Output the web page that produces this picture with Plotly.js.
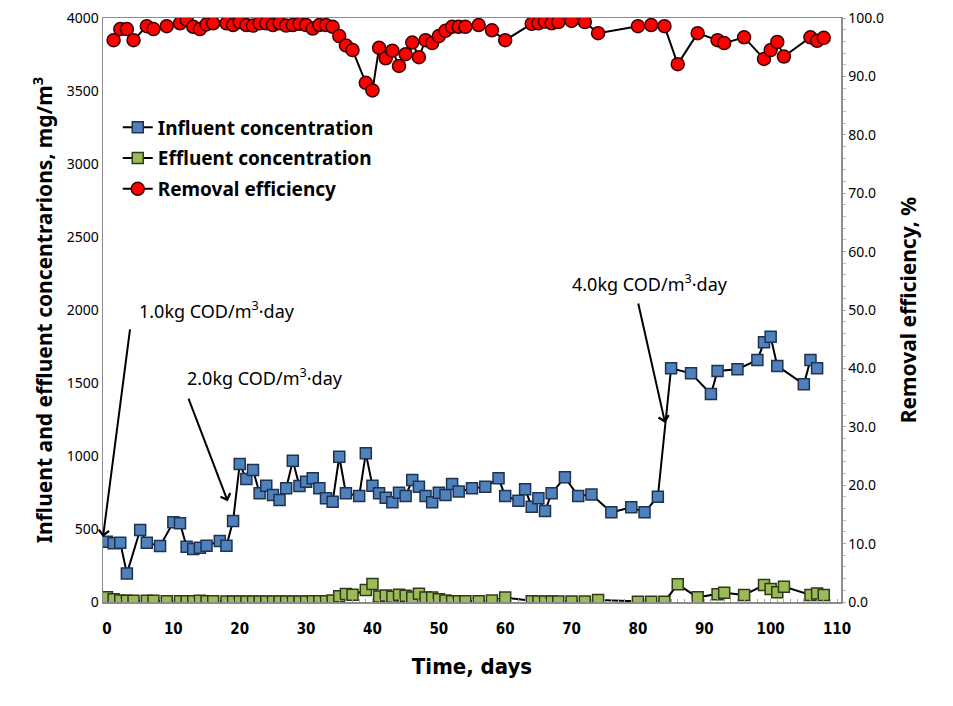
<!DOCTYPE html>
<html><head><meta charset="utf-8">
<script src="https://cdn.plot.ly/plotly-3.0.1.min.js"></script>
<style>body{margin:0;background:#fff}#chart{width:953px;height:706px}</style>
</head><body><div id="chart"></div>
<script>
// Influent concentration (mg/m3)
const influentDays = [0,1,2,3,5,6,8,10,11,12,13,14,15,17,18,19,20,21,22,23,24,25,26,27,28,29,30,31,32,33,34,35,36,38,39,40,41,42,43,44,45,46,47,48,49,50,51,52,53,55,57,59,60,62,63,64,65,66,67,69,71,73,76,79,81,83,85,88,91,92,95,98,99,100,101,105,106,107];
const influentValues = [413,402,406,196,493,406,384,546,539,379,363,372,386,418,386,555,945,842,904,745,797,733,699,779,968,795,824,847,779,710,687,995,745,726,1018,797,745,714,683,749,726,836,790,726,683,749,733,808,756,779,790,847,726,694,772,653,710,623,745,854,726,736,614,649,614,721,1601,1566,1425,1582,1594,1658,1779,1817,1617,1491,1658,1601];

// Effluent concentration (mg/m3)
const effluentDays = [0,1,2,3,4,6,7,9,11,12,13,14,15,16,18,19,20,21,22,23,24,25,26,27,28,29,30,31,32,33,34,35,36,37,39,40,41,42,43,44,45,46,47,48,49,50,51,52,53,54,56,58,60,64,65,66,67,68,70,72,74,80,82,84,86,89,92,93,96,99,100,101,102,106,107,108];
const effluentValues = [32,18,10,8,8,8,8,5,5,5,5,8,5,5,3,3,3,3,3,3,3,3,3,3,3,3,3,5,5,5,10,40,55,50,82,123,38,45,36,50,43,30,57,30,30,19,10,5,5,5,5,10,30,5,3,3,3,3,3,3,14,2,2,2,121,32,53,64,48,116,89,66,105,48,59,48];

// Removal efficiency (%)
const removalDays = [1,2,3,4,6,7,9,11,12,13,14,15,16,18,19,20,21,22,23,24,25,26,27,28,29,30,31,32,33,34,35,36,37,39,40,41,42,43,44,45,46,47,48,49,50,51,52,53,54,56,58,60,64,65,66,67,68,70,72,74,80,82,84,86,89,92,93,96,99,100,101,102,106,107,108];
const removalValues = [96.2,98.1,98.1,96.2,98.6,98.1,98.6,99.1,99.7,98.5,98.1,98.9,99.1,99.1,98.8,99.3,98.8,98.7,99.1,99.1,98.8,99.1,98.7,98.8,99.0,98.8,98.2,98.8,98.8,98.5,96.9,95.3,94.5,88.9,87.6,94.9,93.1,94.4,91.8,93.8,95.8,93.3,96.2,95.7,96.9,97.8,98.5,98.5,98.5,98.8,97.9,96.2,99.0,99.1,99.4,99.1,99.3,99.5,99.3,97.4,98.6,98.8,98.6,92.1,97.4,96.2,95.7,96.7,93.0,94.5,95.9,93.4,96.7,96.1,96.6];

const xTicks = [0,10,20,30,40,50,60,70,80,90,100,110];

const data = [
  {x: influentDays, y: influentValues, name: 'Influent concentration', mode: 'lines+markers', legendgroup:'a',
   line: {color: '#000', width: 2}, marker: {symbol: 'square', size: 11, color: '#4F81BD', line: {color: '#1F3350', width: 1.5}}},
  {x: effluentDays, y: effluentValues, name: 'Effluent concentration', mode: 'lines+markers', legendgroup:'b',
   line: {color: '#000', width: 2}, marker: {symbol: 'square', size: 11, color: '#9BBB59', line: {color: '#2E3A18', width: 1.5}}},
  {x: removalDays, y: removalValues, name: 'Removal efficiency', mode: 'lines+markers', yaxis: 'y2', legendgroup:'c',
   line: {color: '#000', width: 2}, marker: {symbol: 'circle', size: 13, color: '#FF0000', line: {color: '#3A0000', width: 1.5}}}
];

const arrowStyle = {showarrow: true, arrowhead: 4, arrowsize: 1, arrowwidth: 2, arrowcolor: '#000', text: '',
  xref: 'x', yref: 'y', axref: 'x', ayref: 'y'};
const labelFont = {family: 'Noto Sans', size: 18, color: '#000'};
const condensed = 'DejaVu Sans Condensed, DejaVu Sans, sans-serif';

const layout = {
  width: 953, height: 706,
  paper_bgcolor: '#fff', plot_bgcolor: '#fff',
  margin: {l: 103, r: 112, t: 18, b: 104},
  showlegend: true,
  legend: {x: 0.02, y: 0.845, xanchor: 'left', yanchor: 'top', bgcolor: 'rgba(0,0,0,0)',
    font: {family: 'Noto Sans', size: 19, color: '#000', weight: 'bold'}, itemwidth: 30, tracegroupgap: 3, traceorder: 'grouped'},
  xaxis: {range: [-0.6, 110.6], tickvals: xTicks, showgrid: false, zeroline: false,
    showline: true, linecolor: '#8c8c8c', linewidth: 1.5, mirror: true, ticks: '',
    ticklabelstandoff: 12,
    minor: {dtick: 1, ticks: 'inside', ticklen: 3, tickcolor: '#aaa'},
    tickfont: {family: condensed, size: 15, color: '#000', weight: 'bold'},
    title: {text: 'Time, days', standoff: 22, font: {family: condensed, size: 22, color: '#000', weight: 'bold'}}},
  yaxis: {range: [0, 4000], dtick: 500, showgrid: false, zeroline: false,
    showline: true, linecolor: '#8c8c8c', linewidth: 1.5, ticks: '',
    tickfont: {family: 'Noto Sans', size: 14, color: '#000'},
    title: {text: 'Influent and effluent concentrarions, mg/m<sup>3</sup>', standoff: 8,
      font: {family: 'Noto Sans', size: 21, color: '#000', weight: 'bold'}}},
  yaxis2: {range: [0, 100], dtick: 10, tickformat: '.1f', overlaying: 'y', side: 'right',
    showgrid: false, zeroline: false, showline: true, linecolor: '#8c8c8c', linewidth: 1.5,
    ticks: 'outside', ticklen: 3, tickcolor: '#aaa',
    minor: {dtick: 2, ticks: 'outside', ticklen: 3, tickcolor: '#bbb'},
    tickfont: {family: 'Noto Sans', size: 14, color: '#000'},
    title: {text: 'Removal efficiency, %', standoff: 18,
      font: {family: 'Noto Sans', size: 21, color: '#000', weight: 'bold'}}},
  annotations: [
    Object.assign({}, arrowStyle, {x: -0.6, y: 445, ax: 3.5, ay: 1877}),
    Object.assign({}, arrowStyle, {x: 18.2, y: 690, ax: 12.2, ay: 1404}),
    Object.assign({}, arrowStyle, {x: 84.1, y: 1226, ax: 80.0, ay: 2055}),
    {x: 16.6, y: 2000, xref: 'x', yref: 'y', showarrow: false, text: '1.0kg COD/m<sup>3</sup>·day', font: labelFont},
    {x: 23.8, y: 1541, xref: 'x', yref: 'y', showarrow: false, text: '2.0kg COD/m<sup>3</sup>·day', font: labelFont},
    {x: 81.8, y: 2185, xref: 'x', yref: 'y', showarrow: false, text: '4.0kg COD/m<sup>3</sup>·day', font: labelFont}
  ]
};

Plotly.newPlot('chart', data, layout, {displayModeBar: false, staticPlot: true});
</script>
</body></html>
